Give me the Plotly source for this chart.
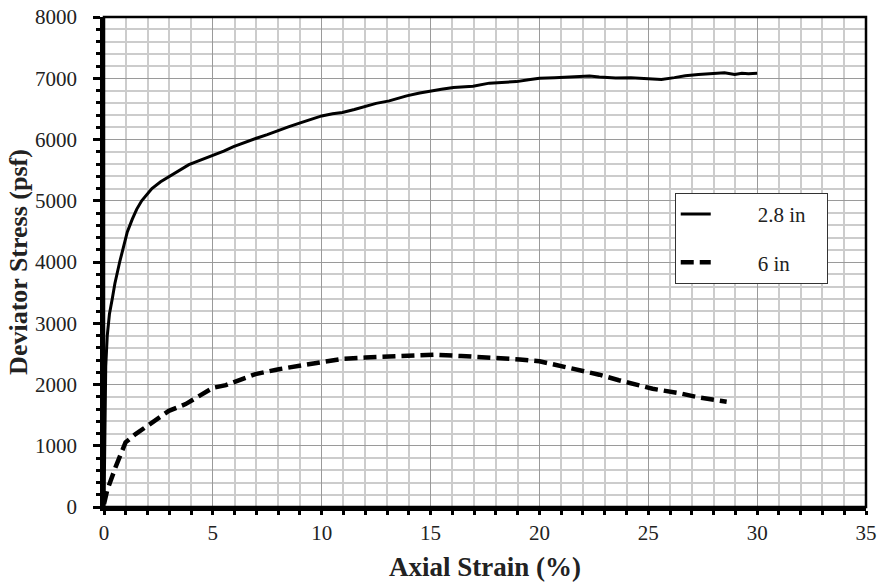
import plotly.graph_objects as go

# 2.8 in specimen
strain_28 = [0, 0.03, 0.08, 0.15, 0.25, 0.38, 0.5, 0.72, 0.9, 1.07, 1.3, 1.5, 1.73, 2.2, 2.6, 3.0,
             3.5, 3.9, 4.4, 5.0, 5.5, 5.95, 6.5, 7.0, 7.5, 8.0, 8.5, 9.05, 9.5, 10.0, 10.5, 10.95,
             11.5, 12.05, 12.5, 13.1, 13.5, 13.9, 14.5, 15.0, 15.5, 16.05, 16.5, 16.95, 17.7, 18.3,
             18.95, 19.5, 20.0, 20.7, 21.5, 22.3, 22.75, 23.5, 24.2, 25.0, 25.6, 26.2, 26.7, 27.3,
             27.8, 28.5, 28.97, 29.3, 29.6, 30.0]
stress_28 = [0, 1200, 2300, 2800, 3150, 3400, 3650, 4000, 4250, 4490, 4700, 4860, 5000, 5200, 5310, 5400,
             5510, 5590, 5660, 5740, 5810, 5885, 5960, 6020, 6080, 6150, 6210, 6275, 6330, 6385, 6420, 6440,
             6490, 6550, 6590, 6630, 6670, 6713, 6760, 6795, 6820, 6850, 6860, 6868, 6920, 6935,
             6945, 6975, 7000, 7010, 7025, 7035, 7020, 7005, 7010, 6990, 6980, 7010, 7040, 7060,
             7070, 7090, 7060, 7080, 7075, 7080]

# 6 in specimen
strain_6 = [0, 0.15, 0.54, 0.99, 1.45, 2.06, 2.98, 3.75, 4.4, 5.0, 5.6, 6.34, 6.96, 8.03, 8.95, 10.0,
            10.95, 12.0, 12.9, 14.0, 15.2, 16.4, 17.3, 18.25, 19.1, 20.0, 20.9, 21.8, 22.75, 23.65,
            24.6, 25.2, 26.4, 27.3, 28.3, 28.6]
stress_6 = [50, 275, 660, 1055, 1190, 1350, 1570, 1680, 1820, 1945, 1990, 2090, 2170, 2250, 2300, 2360,
            2420, 2440, 2450, 2475, 2485, 2465, 2450, 2430, 2410, 2380, 2310, 2225, 2160, 2070,
            1975, 1930, 1860, 1790, 1735, 1720]

series_names = ["2.8 in", "6 in"]

FONT = "Liberation Serif, Times New Roman, serif"
NB = "\u00a0"

fig = go.Figure()
fig.add_trace(go.Scatter(x=strain_28, y=stress_28, mode="lines",
                         name=NB * 8 + series_names[0] + NB * 3, legendgroup="a",
                         line=dict(color="black", width=3)))
fig.add_trace(go.Scatter(x=strain_6, y=stress_6, mode="lines",
                         name=NB * 8 + series_names[1], legendgroup="b",
                         line=dict(color="black", width=4.5, dash="13px,6px")))

axis_common = dict(
    showline=True, linecolor="black", linewidth=3.5,
    ticks="outside", tickcolor="black", tickwidth=3,
    tickfont=dict(family=FONT, size=21, color="#222"),
    showgrid=True, gridcolor="#9a9a9a", gridwidth=1,
    zeroline=False, automargin=False, ticklabeloverflow="allow",
)

fig.update_xaxes(
    range=[0, 35], dtick=5, tick0=0, ticklen=4,
    title=dict(text="<b>Axial Strain (%)</b>", font=dict(family=FONT, size=27, color="#222"), standoff=14),
    minor=dict(dtick=1, showgrid=True, gridcolor="#cccccc", gridwidth=1.5,
               ticks="outside", ticklen=4, tickwidth=3, tickcolor="black"),
    **axis_common,
)
fig.update_yaxes(
    range=[0, 8000], dtick=1000, tick0=0, ticklen=7,
    title=dict(text="<b>Deviator Stress (psf)</b>", font=dict(family=FONT, size=26, color="#222"), standoff=1),
    minor=dict(dtick=200, showgrid=True, gridcolor="#cccccc", gridwidth=1.5,
               ticks="outside", ticklen=4, tickwidth=3, tickcolor="black"),
    ticklabelstandoff=12,
    **axis_common,
)

fig.add_shape(type="rect", xref="paper", yref="paper", x0=0, x1=1, y0=0, y1=1,
              line=dict(color="black", width=2.5), layer="above")

fig.update_layout(
    width=879, height=585,
    margin=dict(l=104, r=13, t=17, b=78, autoexpand=False),
    paper_bgcolor="white", plot_bgcolor="white",
    font=dict(family=FONT, color="#222"),
    legend=dict(
        x=0.749, y=0.641, xanchor="left", yanchor="top",
        bgcolor="white", bordercolor="#333", borderwidth=1,
        font=dict(family=FONT, size=21, color="#222"),
        traceorder="grouped", tracegroupgap=18,
    ),
)

fig.write_html("out.html",
               config={"displayModeBar": False},
               post_script="document.body.style.margin='0';document.body.style.overflow='hidden';")
